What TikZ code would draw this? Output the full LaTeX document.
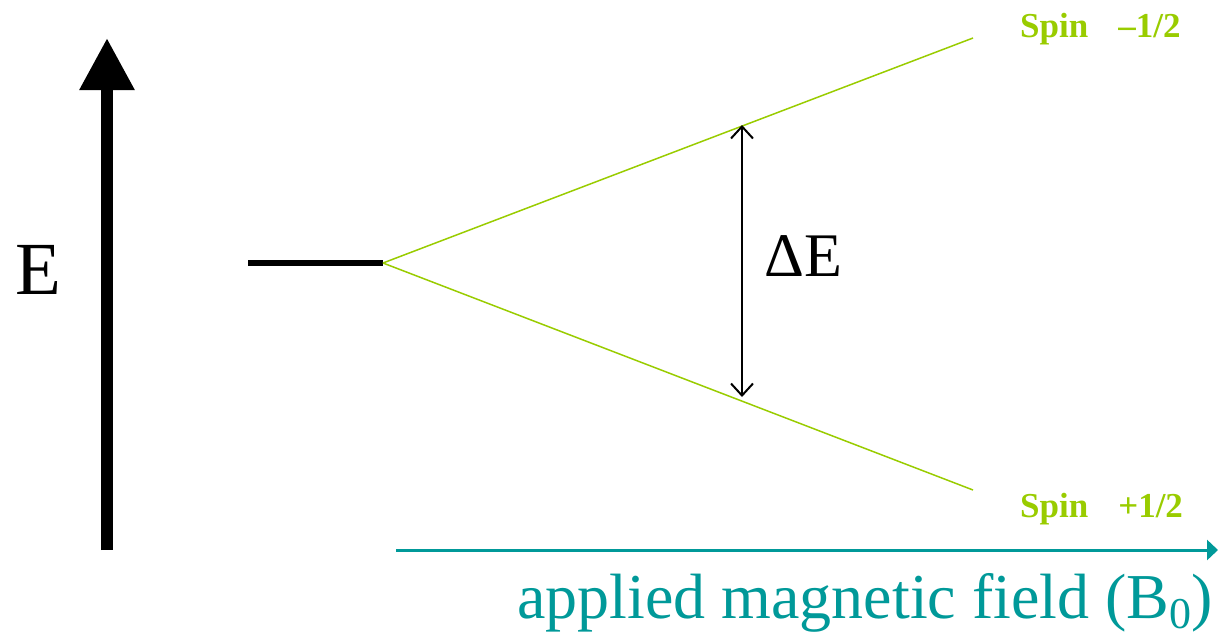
\documentclass[tikz,border=0pt]{standalone}
\usepackage{fontspec}
\setmainfont{Liberation Serif}
\usetikzlibrary{arrows.meta}
\definecolor{spingreen}{RGB}{153,204,0}
\definecolor{fieldteal}{RGB}{0,153,153}
\begin{document}
\begin{tikzpicture}[x=1pt,y=-1pt,
  lvl/.style={draw=spingreen,line width=1.5pt},
  spinlbl/.style={text=spingreen,font=\fontsize{35}{42}\selectfont\bfseries,anchor=base west,inner sep=0pt}]
\useasboundingbox (0,0) rectangle (1218,638);
% energy axis
\coordinate (ebot) at (107,550);
\coordinate (etop) at (107,38);
\draw[line width=12pt,-{Triangle[length=52pt,width=52pt]}] (ebot) -- (etop);
\node[font=\fontsize{75}{90}\selectfont,anchor=base,inner sep=0pt] (E) at (38,294) {E};
% degenerate level
\coordinate (l0) at (248,263);
\coordinate (split) at (383,263);
\draw[line width=6pt] (l0) -- (split);
% split levels
\coordinate (up) at (973,38);
\coordinate (dn) at (973,490);
\draw[lvl] (split) -- (up);
\draw[lvl] (split) -- (dn);
% delta E
\coordinate (dtop) at (742,125);
\coordinate (dbot) at (742,397);
\draw[line width=2pt,{Straight Barb[length=12pt,width=22pt]}-{Straight Barb[length=12pt,width=22pt]}] (dbot) -- (dtop);
\node[font=\fontsize{62}{74}\selectfont,anchor=base west,inner sep=0pt] (dE) at (764,276) {ΔE};
% spin labels
\node[spinlbl] (sm) at (1020,37) {Spin\hspace{30pt}–1/2};
\node[spinlbl] (sp) at (1020,517) {Spin\hspace{30pt}+1/2};
% field axis
\coordinate (fa) at (396,550);
\coordinate (fb) at (1218,550);
\draw[draw=fieldteal,line width=3pt,-{Triangle[length=11pt,width=20pt,fill=fieldteal]}] (fa) -- (fb);
\node[text=fieldteal,font=\fontsize{64}{76}\selectfont,anchor=base east,inner sep=0pt] (field) at (1213,618) {applied magnetic field (B\raisebox{-0.17em}{\fontsize{44}{50}\selectfont 0})};
\end{tikzpicture}
\end{document}
